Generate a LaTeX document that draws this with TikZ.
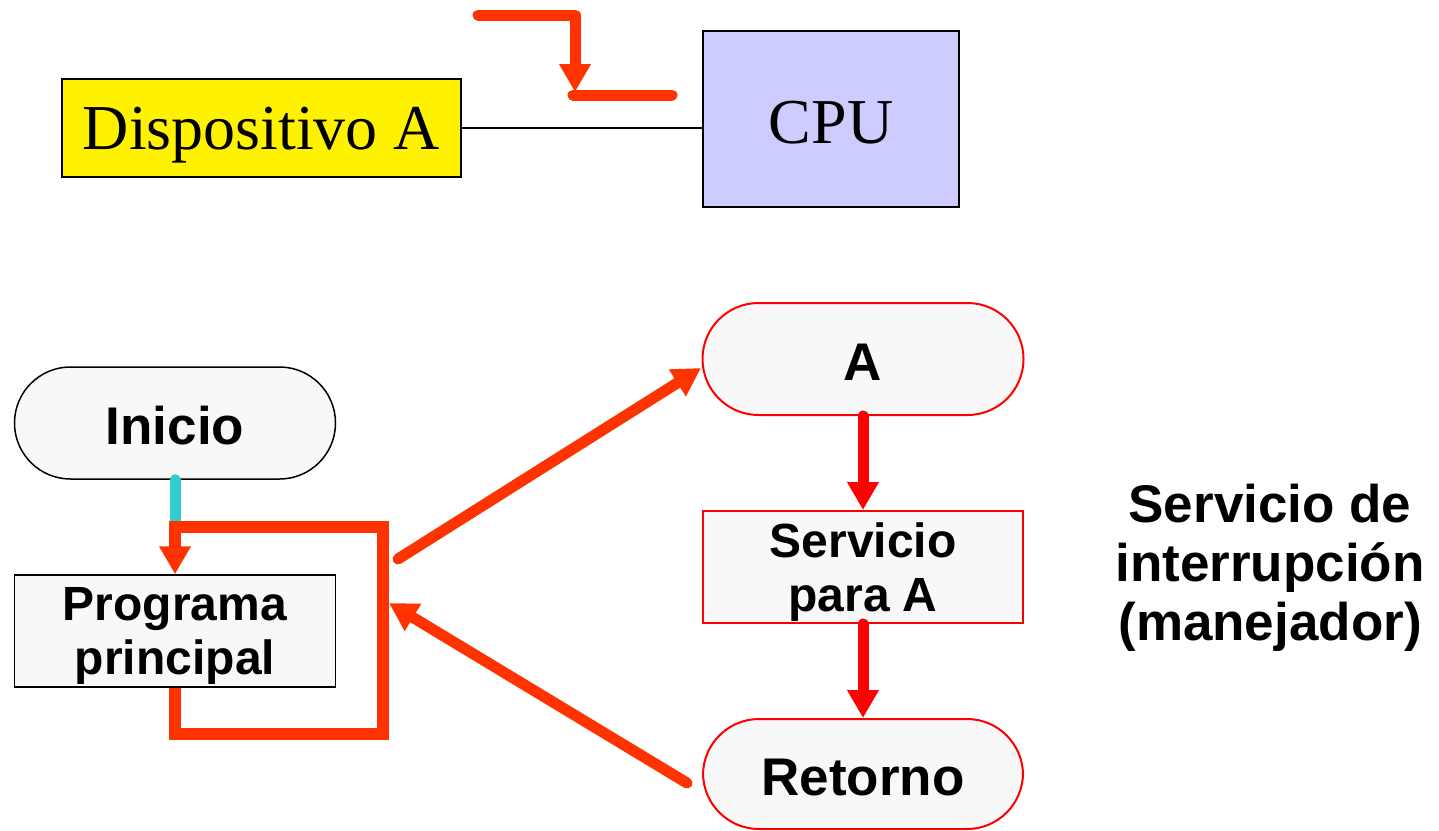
\documentclass[tikz,border=0pt]{standalone}
\usepackage{fontspec}
\setmainfont{Liberation Serif}
\setsansfont{Liberation Sans}
\usetikzlibrary{arrows.meta}
\definecolor{orr}{HTML}{FF3300}
\definecolor{cpuc}{HTML}{CCCCFF}
\definecolor{boxg}{HTML}{F8F8F8}
\definecolor{cyn}{HTML}{33CCCC}
\begin{document}
\begin{tikzpicture}[x=1pt,y=-1pt,
  serifbox/.style={draw=black, line width=1.5pt, inner sep=0pt, text depth=0pt, font=\fontsize{64}{70}\selectfont},
  flowbox/.style={draw=black, fill=boxg, line width=1.5pt, minimum width=321pt, minimum height=112pt, inner sep=0pt, align=center, text depth=0pt, font=\sffamily\bfseries\fontsize{48}{54}\selectfont},
  term/.style={flowbox, rounded corners=56pt, text height=43pt, font=\sffamily\bfseries\fontsize{53}{59}\selectfont},
  redb/.style={draw=red, line width=2pt},
  tipT/.style={-{Triangle[length=28pt,width=30pt]}},
  orarrow/.style={orr, line width=11pt, line cap=round, tipT},
  redarrow/.style={red, line width=11pt, line cap=round, tipT},
]
\useasboundingbox (0,0) rectangle (1439,830);

% top part
\node[serifbox, fill=yellow, minimum width=399pt, minimum height=98pt] (disp) at (261.5,128) {Dispositivo A};
\node[serifbox, fill=cpuc, minimum width=256pt, minimum height=176pt, text height=49pt] (cpu) at (831,119) {CPU};
\draw[black, line width=1.2pt] (disp.east) -- (disp.east -| cpu.west);

\coordinate (irqs) at (478,15);
\coordinate (irqc) at (575,15);
\coordinate (irqt) at (575,92);
\coordinate (irqa) at (573,95);
\coordinate (irqb) at (672,95);
\draw[orarrow, line join=round] (irqs) -- (irqc) -- (irqt);
\draw[orr, line width=11pt, line cap=round] (irqa) -- (irqb);

% flowchart left
\node[term] (ini) at (175,423) {Inicio};
\node[flowbox] (prog) at (175,631) {Programa\\principal};
\draw[cyn, line width=11pt, line cap=round] (ini.south) -- ++(0,43);

\coordinate (lp1) at (175,734);
\coordinate (lp2) at (383,734);
\coordinate (lp3) at (383,527);
\coordinate (lp4) at (175,527);
\draw[orr, line width=12.5pt, tipT] (prog.south) -- (lp1) -- (lp2) -- (lp3) -- (lp4) -- (prog.north);

% flowchart right
\node[term, redb] (a) at (863,359) {A};
\node[flowbox, redb, minimum width=320pt] (srv) at (863,567) {Servicio\\para A};
\node[term, redb, minimum width=320pt, minimum height=110pt] (ret) at (863,774) {Retorno};
\draw[redarrow] (a.south) -- (srv.north);
\draw[redarrow] (srv.south) -- (ret.north);

\coordinate (go) at (398,559);
\coordinate (ain) at (701,368);
\draw[orarrow] (go) -- (ain);
\coordinate (back) at (687,783);
\coordinate (bin) at (389,603);
\draw[orarrow] (back) -- (bin);

\node[align=center, font=\sffamily\bfseries\fontsize{53}{59}\selectfont] (lbl) at (1270,568) {Servicio de\\interrupción\\(manejador)};
\end{tikzpicture}
\end{document}
